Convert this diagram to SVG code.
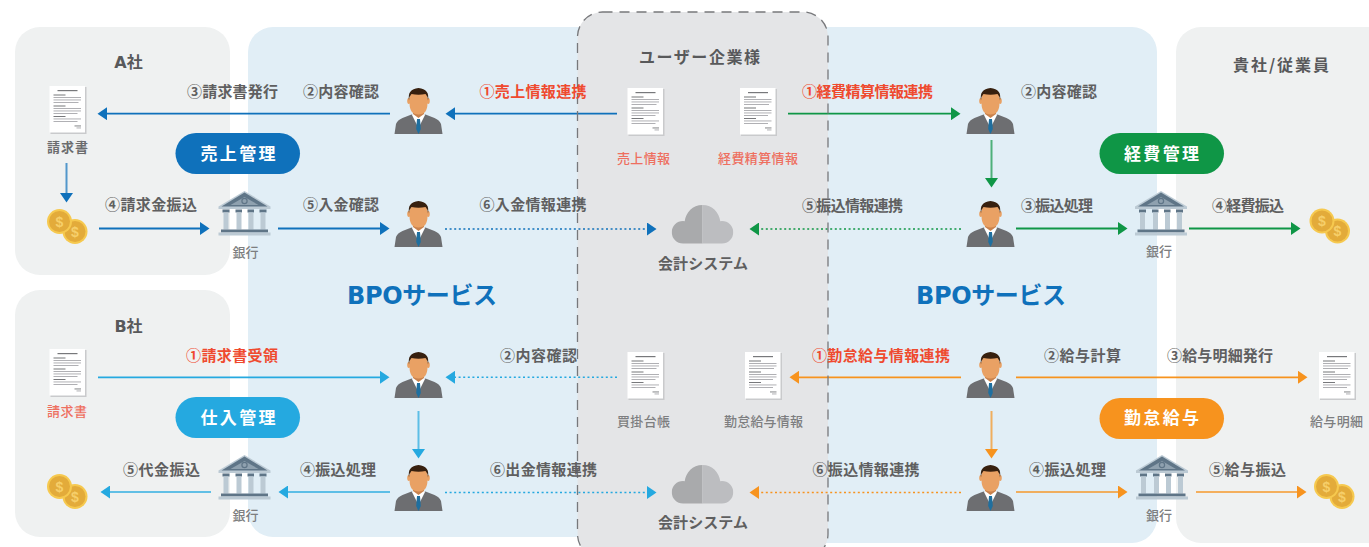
<svg xmlns="http://www.w3.org/2000/svg" width="1369" height="547" viewBox="0 0 1369 547">
<style>
text{font-family:"Noto Sans CJK JP","Noto Sans",sans-serif;text-anchor:middle}
.lat{font-family:"DejaVu Sans",sans-serif}
.l{font-size:15px;font-weight:700;fill:#5f5f60}
.r{font-size:15px;font-weight:700;fill:#ef4a2f}
.h{font-size:16px;font-weight:700;fill:#58595b}
.s{font-size:13px;font-weight:500;fill:#7d7e80}
.sb{font-size:13px;font-weight:700;fill:#6b6c6e}
.sr{font-size:13px;font-weight:500;fill:#ee6f5f}
.p{font-size:17px;font-weight:700;fill:#fff}
.b{font-size:24px;font-weight:700;fill:#0f71bb}
.panel{fill:#eff1f1}
.bpo{fill:#e1eef6}
line{fill:none;stroke-width:1.8}
.d{stroke-width:1.6;stroke-dasharray:2 2.6}
.v{stroke-width:2;stroke-opacity:.7}
.blue{stroke:#0f71bb}.green{stroke:#0f9646}.sky{stroke:#25a9e0}.orange{stroke:#f7931e}
</style>
<defs>
<marker id="mb" markerUnits="userSpaceOnUse" markerWidth="10" markerHeight="13" refX="5" refY="6.5" orient="auto"><path d="M0 0L9.5 6.5L0 13Z" fill="#0f71bb"/></marker>
<marker id="mg" markerUnits="userSpaceOnUse" markerWidth="10" markerHeight="13" refX="5" refY="6.5" orient="auto"><path d="M0 0L9.5 6.5L0 13Z" fill="#0f9646"/></marker>
<marker id="ms" markerUnits="userSpaceOnUse" markerWidth="10" markerHeight="13" refX="5" refY="6.5" orient="auto"><path d="M0 0L9.5 6.5L0 13Z" fill="#25a9e0"/></marker>
<marker id="mo" markerUnits="userSpaceOnUse" markerWidth="10" markerHeight="13" refX="5" refY="6.5" orient="auto"><path d="M0 0L9.5 6.5L0 13Z" fill="#f7931e"/></marker>
<symbol id="person" width="48" height="46" viewBox="0 0 48 46" overflow="visible">
<path d="M0 46L1.500 36Q3 32 8 30L17 26.500L24 29L31 26.500L40 30Q45 32 46.500 36L48 46Z" fill="#6d6e71"/>
<path d="M17.500 27L24 40L30.500 27L24 23Z" fill="#fff"/>
<path d="M22.500 31H25.500L26.300 41L24 46L21.700 41Z" fill="#1f6f9f"/>
<path d="M18.500 19H29.500V26L24 30L18.500 26Z" fill="#c9824d"/>
<ellipse cx="14.300" cy="13" rx="1.600" ry="3" fill="#e9a164"/><ellipse cx="33.700" cy="13" rx="1.600" ry="3" fill="#e9a164"/>
<path d="M15 10Q15 4 24 4Q33 4 33 10V15Q33 26.500 24 26.500Q15 26.500 15 15Z" fill="#e9a164"/>
<path d="M14.500 12.500Q12.500 1 24 0Q35.500 1 33.500 12.500Q33.300 8 31 6Q24 7.500 17 6Q14.700 8 14.500 12.500Z" fill="#37200f"/>
</symbol>
<symbol id="doc" width="37" height="48" viewBox="0 0 37 48" overflow="visible">
<rect x="1" y="1" width="36" height="47" fill="#c9cacc"/><rect width="35.500" height="46.500" fill="#fff"/>
<g fill="#a7a8ac">
<rect x="8" y="4" width="20" height="1.200" fill="#77787b"/>
<rect x="4" y="8.500" width="12" height="1" fill="#77787b"/>
<rect x="4" y="11" width="27.500" height=".9"/><rect x="4" y="13.500" width="27.500" height=".9"/><rect x="4" y="16" width="25" height=".9"/>
<rect x="4" y="19.500" width="12" height="1" fill="#77787b"/>
<rect x="4" y="22" width="27.500" height=".9"/><rect x="4" y="24.500" width="27.500" height=".9"/><rect x="4" y="27" width="24" height=".9"/>
<rect x="4" y="30" width="12" height="1" fill="#77787b"/>
<rect x="4" y="32.500" width="27.500" height=".9"/><rect x="4" y="35" width="24" height=".9"/>
<rect x="25" y="39.500" width="6.500" height=".9" fill="#77787b"/><rect x="27" y="41.500" width="4.500" height=".9"/>
</g>
</symbol>
<g id="c1"><circle r="12.500" fill="#f6c94f"/><circle r="10.500" fill="#e3ab3a"/><text y="5" style="font-size:14px;font-weight:700;fill:#f6cf6a;font-family:'Liberation Sans',sans-serif">$</text></g>
<symbol id="coins" width="40" height="35" viewBox="0 0 40 35" overflow="visible">
<use href="#c1" x="28" y="23"/><use href="#c1" x="12.500" y="13"/>
</symbol>
<symbol id="bank" width="52" height="45" viewBox="0 0 52 45" overflow="visible">
<path d="M26 0L52 15.500V18H0V15.500Z" fill="#bccad4"/>
<path d="M26 1.500L49 15.500H3Z" fill="#5f7587"/>
<path d="M26 6L40 14H12Z" fill="#8fa1af"/>
<circle cx="26" cy="10" r="2.600" fill="none" stroke="#5f7587" stroke-width="1.200"/>
<g fill="#5f7587"><rect x="4" y="18.500" width="7" height="3"/><rect x="17" y="18.500" width="6.500" height="3"/><rect x="29" y="18.500" width="6.500" height="3"/><rect x="41" y="18.500" width="7" height="3"/></g>
<g fill="#bccad4"><rect x="5" y="21.500" width="5" height="17"/><rect x="18" y="21.500" width="5" height="17"/><rect x="30" y="21.500" width="5" height="17"/><rect x="42" y="21.500" width="5" height="17"/></g>
<rect x="2.500" y="38.500" width="47" height="3" fill="#5f7587"/>
<rect y="41.500" width="52" height="3" fill="#bccad4"/>
</symbol>
<symbol id="cloud" width="62" height="39" viewBox="0 0 62 39">
<path d="M31 0C21 0 14.500 7.500 13.200 16.200Q12.500 16 11.500 16A11.250 11.250 0 0 0 11.500 38.500H31Z" fill="#a9aaac"/>
<path d="M31 0C41 0 47.500 7.500 48.800 16.200Q49.500 16 50.500 16A11.250 11.250 0 0 1 50.500 38.500H31Z" fill="#bcbdc0"/>
</symbol>
</defs>

<rect width="1369" height="547" fill="#fff"/>
<g id="panels">
<rect id="panel-a" class="panel" x="15" y="27" width="215" height="248" rx="25"/>
<rect id="panel-b" class="panel" x="15" y="290" width="215" height="247" rx="25"/>
<rect id="panel-right" class="panel" x="1176" y="27" width="240" height="516" rx="25"/>
<path id="bpo-left" class="bpo" d="M620 27H273A25 25 0 0 0 248 52V512A25 25 0 0 0 273 537H620Z"/>
<path id="bpo-right" class="bpo" d="M790 27H1132A25 25 0 0 1 1157 52V518A25 25 0 0 1 1132 543H790Z"/>
<rect id="panel-user" x="577.500" y="12" width="250.500" height="547" rx="25" fill="#e4e5e7"/>
</g>

<g id="connectors">
<line class="blue" x1="390" y1="113.700" x2="102" y2="113.700" marker-end="url(#mb)"/>
<line class="blue" x1="617" y1="113.700" x2="450" y2="113.700" marker-end="url(#mb)"/>
<line class="green" x1="788" y1="113.700" x2="956" y2="113.700" marker-end="url(#mg)"/>
<line class="blue v" x1="66.500" y1="163" x2="66.500" y2="198" marker-end="url(#mb)"/>
<line class="green v" x1="991.500" y1="140" x2="991.500" y2="183" marker-end="url(#mg)"/>
<line class="blue" x1="99" y1="228.500" x2="205" y2="228.500" marker-end="url(#mb)"/>
<line class="blue" x1="278" y1="228.500" x2="385" y2="228.500" marker-end="url(#mb)"/>
<line class="blue d" x1="445" y1="229" x2="652" y2="229" marker-end="url(#mb)"/>
<line class="green d" x1="961" y1="229" x2="754" y2="229" marker-end="url(#mg)"/>
<line class="green" x1="1016" y1="228.500" x2="1123" y2="228.500" marker-end="url(#mg)"/>
<line class="green" x1="1189" y1="228.500" x2="1296" y2="228.500" marker-end="url(#mg)"/>
<line class="sky" x1="98" y1="377.300" x2="385" y2="377.300" marker-end="url(#ms)"/>
<line class="sky d" x1="617" y1="377.300" x2="450" y2="377.300" marker-end="url(#ms)"/>
<line class="orange" x1="961" y1="377.300" x2="794" y2="377.300" marker-end="url(#mo)"/>
<line class="orange" x1="1016" y1="377.300" x2="1303" y2="377.300" marker-end="url(#mo)"/>
<line class="sky v" x1="418.500" y1="411" x2="418.500" y2="454" marker-end="url(#ms)"/>
<line class="orange v" x1="991.500" y1="411" x2="991.500" y2="454" marker-end="url(#mo)"/>
<line class="sky v" x1="211" y1="492" x2="105" y2="492" marker-end="url(#ms)"/>
<line class="sky v" x1="390" y1="492" x2="283" y2="492" marker-end="url(#ms)"/>
<line class="sky d" x1="445" y1="492.500" x2="652" y2="492.500" marker-end="url(#ms)"/>
<line class="orange d" x1="961" y1="492.500" x2="754" y2="492.500" marker-end="url(#mo)"/>
<line class="orange v" x1="1016" y1="492" x2="1123" y2="492" marker-end="url(#mo)"/>
<line class="orange v" x1="1196" y1="492" x2="1302" y2="492" marker-end="url(#mo)"/>
</g>

<rect id="panel-user-border" x="577.500" y="12" width="250.500" height="547" rx="25" fill="none" stroke="#77787b" stroke-width="1.300" stroke-dasharray="10 7"/>

<g id="connector-labels">
<text class="l" x="232.500" y="97" textLength="91">③請求書発行</text>
<text class="l" x="341" y="97" textLength="76">②内容確認</text>
<text class="r" x="533" y="97" textLength="107">①売上情報連携</text>
<text class="r" x="867.500" y="97" textLength="131">①経費精算情報連携</text>
<text class="l" x="1059" y="97" textLength="76">②内容確認</text>
<text class="l" x="151" y="210" textLength="92">④請求金振込</text>
<text class="l" x="341" y="210" textLength="76">⑤入金確認</text>
<text class="l" x="533" y="210" textLength="107">⑥入金情報連携</text>
<text class="l" x="852.500" y="211" textLength="101">⑤振込情報連携</text>
<text class="l" x="1057" y="211" textLength="72">③振込処理</text>
<text class="l" x="1248" y="211" textLength="72">④経費振込</text>
<text class="r" x="232" y="361" textLength="92">①請求書受領</text>
<text class="l" x="538.500" y="361" textLength="77">②内容確認</text>
<text class="r" x="881" y="361" textLength="138">①勤怠給与情報連携</text>
<text class="l" x="1082.500" y="361" textLength="77">②給与計算</text>
<text class="l" x="1220" y="361" textLength="106">③給与明細発行</text>
<text class="l" x="161.500" y="475" textLength="77">⑤代金振込</text>
<text class="l" x="338" y="475" textLength="76">④振込処理</text>
<text class="l" x="543.500" y="475" textLength="107">⑥出金情報連携</text>
<text class="l" x="866" y="475" textLength="107">⑥振込情報連携</text>
<text class="l" x="1067.500" y="475" textLength="77">④振込処理</text>
<text class="l" x="1247.500" y="475" textLength="77">⑤給与振込</text>
</g>

<g id="titles">
<text class="h" x="128.500" y="68"><tspan class="lat">A</tspan>社</text>
<text class="h" x="128.500" y="332"><tspan class="lat">B</tspan>社</text>
<text class="h" x="699.500" y="63" textLength="121">ユーザー企業様</text>
<text class="h" x="1281" y="71" textLength="96">貴社/従業員</text>
<text class="b" x="422" y="304" textLength="150"><tspan class="lat">BPO</tspan>サービス</text>
<text class="b" x="991" y="304" textLength="150"><tspan class="lat">BPO</tspan>サービス</text>
</g>

<g id="pill-sales"><rect x="175.500" y="133" width="124.500" height="41" rx="20.500" fill="#0f71bb"/><text class="p" x="238" y="160" textLength="75">売上管理</text></g>
<g id="pill-expense"><rect x="1099.500" y="133" width="124.500" height="41" rx="20.500" fill="#0f9646"/><text class="p" x="1161.500" y="160" textLength="75">経費管理</text></g>
<g id="pill-purchase"><rect x="175.500" y="397" width="124.500" height="41" rx="20.500" fill="#25a9e0"/><text class="p" x="238" y="424" textLength="75">仕入管理</text></g>
<g id="pill-payroll"><rect x="1099.500" y="398" width="124.500" height="41" rx="20.500" fill="#f7931e"/><text class="p" x="1161.500" y="424" textLength="75">勤怠給与</text></g>

<g id="person-1"><use href="#person" x="394.500" y="88"/></g>
<g id="person-2"><use href="#person" x="394.500" y="201"/></g>
<g id="person-3"><use href="#person" x="394.500" y="352"/></g>
<g id="person-4"><use href="#person" x="394.500" y="465"/></g>
<g id="person-5"><use href="#person" x="966.500" y="88"/></g>
<g id="person-6"><use href="#person" x="966.500" y="201"/></g>
<g id="person-7"><use href="#person" x="966.500" y="352"/></g>
<g id="person-8"><use href="#person" x="966.500" y="465"/></g>

<g id="doc-a"><use href="#doc" x="49.500" y="86"/><text class="sb" x="67.500" y="152" textLength="41">請求書</text></g>
<g id="doc-sales"><use href="#doc" x="627.500" y="88"/><text class="sr" x="643.500" y="163" textLength="53">売上情報</text></g>
<g id="doc-expense"><use href="#doc" x="740" y="88"/><text class="sr" x="758" y="163" textLength="80">経費精算情報</text></g>
<g id="doc-b"><use href="#doc" x="49.500" y="349"/><text class="sr" x="67" y="416" textLength="40">請求書</text></g>
<g id="doc-payable"><use href="#doc" x="627.500" y="352"/><text class="s" x="643.500" y="426" textLength="53">買掛台帳</text></g>
<g id="doc-attendance"><use href="#doc" x="745" y="352"/><text class="s" x="763.500" y="426" textLength="79">勤怠給与情報</text></g>
<g id="doc-payslip"><use href="#doc" x="1319" y="352"/><text class="s" x="1336.500" y="426" textLength="53">給与明細</text></g>

<g id="coins-a"><use href="#coins" x="47" y="208.500"/></g>
<g id="coins-right"><use href="#coins" x="1309.500" y="208"/></g>
<g id="coins-b"><use href="#coins" x="47" y="473.500"/></g>
<g id="coins-right-2"><use href="#coins" x="1314" y="473.500"/></g>

<g id="bank-a"><use href="#bank" x="218.500" y="191"/><text class="s" x="245.500" y="257" textLength="26">銀行</text></g>
<g id="bank-right"><use href="#bank" x="1135" y="191"/><text class="s" x="1159" y="256" textLength="26">銀行</text></g>
<g id="bank-b"><use href="#bank" x="218.500" y="455"/><text class="s" x="245.500" y="520" textLength="26">銀行</text></g>
<g id="bank-right-2"><use href="#bank" x="1136" y="455"/><text class="s" x="1159" y="520" textLength="26">銀行</text></g>

<g id="cloud-1"><use href="#cloud" x="671.500" y="205"/><text class="l" x="703" y="269" textLength="90">会計システム</text></g>
<g id="cloud-2"><use href="#cloud" x="671.500" y="465"/><text class="l" x="703" y="528" textLength="90">会計システム</text></g>
</svg>
